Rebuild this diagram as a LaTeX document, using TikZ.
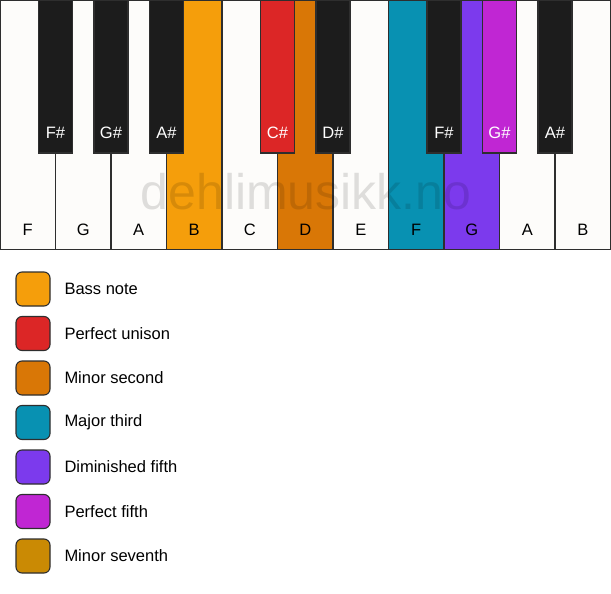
\documentclass[tikz,border=0pt]{standalone}
\usepackage{fontspec}
\setmainfont{Liberation Sans}
\definecolor{wkey}{HTML}{FDFCFA}
\definecolor{bkey}{HTML}{1C1C1C}
\definecolor{edge}{HTML}{2E2E2E}
\definecolor{cbass}{HTML}{F59E0B}
\definecolor{cunison}{HTML}{DC2626}
\definecolor{cminsec}{HTML}{D97706}
\definecolor{cmajthird}{HTML}{0891B2}
\definecolor{cdimfifth}{HTML}{7C3AED}
\definecolor{cperfifth}{HTML}{C026D3}
\definecolor{cminsev}{HTML}{CA8A04}
\begin{document}
\begin{tikzpicture}[x=1pt,y=-1pt,
  whitekey/.style={draw=edge,line width=1.1pt,fill=wkey,minimum width=55.5pt,minimum height=249.5pt,inner sep=0pt,outer sep=0pt},
  blackkey/.style={draw=edge,line width=1.1pt,fill=bkey,minimum width=34pt,minimum height=153pt,inner sep=0pt,outer sep=0pt},
  wlabel/.style={font=\fontsize{16.5}{16.5}\selectfont,text=black,inner sep=0pt},
  blabel/.style={font=\fontsize{16.5}{16.5}\selectfont,text=white,inner sep=0pt},
  legbox/.style={draw=edge,line width=1.1pt,rounded corners=6pt,minimum width=34pt,minimum height=34pt,inner sep=0pt},
  legtext/.style={font=\fontsize{16.5}{16.5}\selectfont,anchor=west,inner sep=0pt}]
\useasboundingbox (0,0) rectangle (611,594);
% white keys
\foreach \n/\lab/\col [count=\i from 0] in {wF/F/wkey,wG/G/wkey,wA/A/wkey,wB/B/cbass,wC/C/wkey,wD/D/cminsec,wE/E/wkey,wF2/F/cmajthird,wG2/G/cdimfifth,wA2/A/wkey,wB2/B/wkey}{
  \node[whitekey,fill=\col] (\n) at ({27.75+55.5*\i},124.75) {};
  \node[wlabel] (\n-l) at ({27.75+55.5*\i},230) {\lab};
}
% watermark
\node[font=\fontsize{50}{50}\selectfont,text=black,text opacity=0.12,inner sep=0pt] (wm) at (306,192) {dehlimusikk.no};
% black keys
\foreach \n/\lab/\x/\col in {bFs/F\#/55.5/bkey,bGs/G\#/111/bkey,bAs/A\#/166.5/bkey,bCs/C\#/277.5/cunison,bDs/D\#/333/bkey,bFs2/F\#/444/bkey,bGs2/G\#/499.5/cperfifth,bAs2/A\#/555/bkey}{
  \node[blackkey,fill=\col] (\n) at (\x,76.5) {};
  \node[blabel] (\n-l) at (\x,133) {\lab};
}
% legend
\foreach \n/\col/\txt [count=\i from 0] in {lbass/cbass/Bass note,lunison/cunison/Perfect unison,lminsec/cminsec/Minor second,lmajthird/cmajthird/Major third,ldimfifth/cdimfifth/Diminished fifth,lperfifth/cperfifth/Perfect fifth,lminsev/cminsev/Minor seventh}{
  \node[legbox,fill=\col] (\n) at (33,{289+44.5*\i}) {};
  \node[legtext] (\n-t) at (64.3,{289+44.5*\i}) {\txt};
}
\end{tikzpicture}
\end{document}
